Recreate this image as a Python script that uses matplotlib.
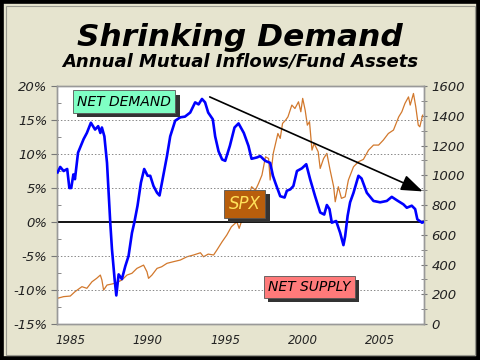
import numpy as np
import matplotlib
matplotlib.use("Agg")
import matplotlib.pyplot as plt
import matplotlib.patheffects as pe
from matplotlib.patches import Rectangle
from matplotlib.ticker import MultipleLocator, FuncFormatter

# ====== DỮ LIỆU ======
# net demand (% tren truc trai)
demand_years = [1984.18, 1984.35, 1984.57, 1984.8, 1984.94, 1985.06, 1985.2, 1985.3, 1985.5, 1985.86,
                1986.07, 1986.33, 1986.6, 1986.8, 1986.94, 1987.04, 1987.2, 1987.37, 1987.58, 1987.69,
                1987.86, 1987.97, 1988.12, 1988.33, 1988.55, 1988.76, 1988.98, 1989.13, 1989.34, 1989.56,
                1989.77, 1989.99, 1990.16, 1990.37, 1990.6, 1990.76, 1991.0, 1991.24, 1991.45, 1991.77,
                1992.1, 1992.4, 1992.74, 1993.06, 1993.28, 1993.5, 1993.7, 1993.9, 1994.2, 1994.35,
                1994.57, 1994.8, 1995.0, 1995.3, 1995.6, 1995.86, 1996.2, 1996.5, 1996.7, 1997.05,
                1997.26, 1997.58, 1997.9, 1998.08, 1998.23, 1998.55, 1998.83, 1998.98, 1999.2, 1999.4,
                1999.63, 1999.95, 2000.23, 2000.48, 2000.8, 2001.13, 2001.39, 2001.56, 2001.73, 2001.88,
                2002.16, 2002.42, 2002.63, 2002.74, 2002.9, 2003.06, 2003.28, 2003.6, 2003.8, 2004.14,
                2004.57, 2005.0, 2005.43, 2005.75, 2006.08, 2006.5, 2006.72, 2007.04, 2007.26, 2007.4,
                2007.7, 2007.8]
demand_pct = [7.3, 8.1, 7.5, 7.8, 5.0, 5.0, 7.0, 6.3, 10.2, 12.2,
              13.1, 14.6, 13.6, 14.1, 13.1, 13.9, 12.6, 8.7, -0.1, -4.0,
              -8.4, -10.8, -7.7, -8.4, -6.5, -5.0, -1.6, -0.1, 2.4, 5.8,
              7.8, 6.8, 6.8, 5.3, 4.3, 3.9, 6.8, 9.7, 12.6, 14.9,
              15.4, 15.5, 16.1, 17.6, 17.3, 18.1, 17.6, 16.1, 15.1, 12.6,
              10.4, 9.2, 9.0, 11.2, 13.9, 14.5, 13.1, 11.2, 9.3, 9.5,
              9.7, 9.0, 8.7, 6.8, 5.8, 3.8, 3.6, 4.6, 4.8, 5.3,
              7.5, 7.9, 8.5, 6.3, 3.8, 1.4, 1.1, 2.5, 1.9, -0.1,
              0.15, -1.6, -3.4, -2.1, 0.9, 2.9, 4.3, 6.8, 6.4, 4.3,
              3.1, 2.9, 3.1, 3.7, 3.2, 2.6, 2.1, 2.4, 1.9, 0.4,
              -0.1, 0.0]

# SPX (truc phai)
spx_years = [1984.18, 1984.57, 1985.0, 1985.3, 1985.75, 1986.07, 1986.4, 1986.7, 1986.94, 1987.04,
             1987.15, 1987.37, 1987.69, 1988.0, 1988.33, 1988.66, 1988.98, 1989.3, 1989.73, 1989.95,
             1990.05, 1990.27, 1990.6, 1990.9, 1991.24, 1991.66, 1992.1, 1992.53, 1992.96, 1993.4,
             1993.6, 1993.9, 1994.25, 1994.46, 1994.8, 1995.1, 1995.4, 1995.75, 1995.9, 1996.08,
             1996.4, 1996.7, 1996.95, 1997.15, 1997.37, 1997.6, 1997.8, 1997.9, 1998.1, 1998.4,
             1998.55, 1998.7, 1998.9, 1999.05, 1999.3, 1999.5, 1999.73, 1999.88, 2000.0, 2000.16,
             2000.3, 2000.44, 2000.6, 2000.74, 2001.0, 2001.13, 2001.35, 2001.56, 2001.77, 2002.0,
             2002.1, 2002.3, 2002.5, 2002.74, 2002.95, 2003.28, 2003.6, 2003.92, 2004.25, 2004.57,
             2004.9, 2005.2, 2005.53, 2005.86, 2006.2, 2006.4, 2006.6, 2006.83, 2006.94, 2007.15,
             2007.3, 2007.46, 2007.56, 2007.74]
spx_vals = [173, 184, 188, 217, 251, 240, 284, 307, 329, 296,
            228, 262, 269, 278, 296, 329, 341, 374, 396, 351,
            307, 329, 374, 385, 408, 419, 430, 452, 464, 479,
            452, 470, 464, 497, 553, 598, 654, 687, 643, 699,
            811, 923, 900, 945, 1001, 1124, 1113, 968, 1147, 1281,
            1248, 1349, 1371, 1393, 1472, 1449, 1494, 1427, 1517, 1438,
            1337, 1360, 1169, 1214, 1158, 1046, 1113, 1147, 1035, 923,
            822, 923, 845, 855, 968, 1057, 1091, 1107, 1169, 1203,
            1203, 1236, 1281, 1304, 1393, 1427, 1483, 1527, 1472, 1550,
            1460, 1337, 1326, 1404]

x_ticks = [1985, 1990, 1995, 2000, 2005]
x_labels = ["1985", "1990", "1995", "2000", "2005"]

# mui ten xu huong (tu dinh 1994 xuong cuoi 2007)
trend_start = (1994.0, 18.4)
trend_end = (2007.75, 4.5)

BG = "#E6E4CF"

# ====== VE ======
fig = plt.figure(figsize=(4.8, 3.6), dpi=100, facecolor=BG)
ax = fig.add_axes([0.119, 0.1, 0.764, 0.661])

ax.set_xlim(1984.15, 2007.82)
ax.set_ylim(-15, 20)
ax.yaxis.set_major_locator(MultipleLocator(5))
ax.yaxis.set_minor_locator(MultipleLocator(2.5))
ax.yaxis.set_major_formatter(FuncFormatter(lambda v, p: f"{v:.0f}%"))
for y in [-10, -5, 5, 10, 15]:
    ax.axhline(y, color="#888888", lw=0.7, ls=(0, (1.5, 2)), zorder=1)
ax.axhline(0, color="black", lw=1.3, zorder=2)

ax.set_xticks(x_ticks)
ax.set_xticklabels(x_labels)
ax.tick_params(axis="x", length=0, pad=7, labelsize=8.5, labelcolor="#222222")
ax.tick_params(axis="y", which="major", direction="out", length=4, pad=3,
               labelsize=9.5, labelcolor="#222222", color="#777777")
ax.tick_params(axis="y", which="minor", direction="in", length=3, color="#777777")
for tl in ax.get_xticklabels() + ax.get_yticklabels():
    tl.set_fontstyle("italic")

ax2 = ax.twinx()
ax2.set_ylim(0, 1600)
ax2.yaxis.set_major_locator(MultipleLocator(200))
ax2.yaxis.set_minor_locator(MultipleLocator(100))
ax2.tick_params(axis="y", which="both", direction="inout", length=5, pad=3,
                labelsize=9.5, labelcolor="#222222", color="#777777")
for tl in ax2.get_yticklabels():
    tl.set_fontstyle("italic")

ax2.plot(spx_years, spx_vals, color="#D2782C", lw=0.9, zorder=3)
ax.set_zorder(ax2.get_zorder() + 1)
ax.patch.set_visible(False)
ax2.patch.set_visible(True)
ax2.patch.set_facecolor("white")
ax.plot(demand_years, demand_pct, color="#0000FF", lw=1.9, zorder=4)

ax.annotate("", xy=trend_end, xytext=trend_start,
            arrowprops=dict(arrowstyle="-|>,head_length=0.6,head_width=0.22",
                            color="black", lw=1.2, mutation_scale=22,
                            shrinkA=0, shrinkB=0), zorder=5)

for a in (ax, ax2):
    for s in a.spines.values():
        s.set_color("#999999")
        s.set_linewidth(1.0)


def label_box(x, y, txt, fc, tc, size):
    t = ax.text(x, y, txt, transform=ax.transAxes, ha="center", va="center", fontsize=size,
                style="italic", color=tc, zorder=7,
                bbox=dict(boxstyle="square,pad=0.3", fc=fc, ec="#555555", lw=0.6))
    t.get_bbox_patch().set_path_effects([
        pe.SimplePatchShadow(offset=(3, -3), shadow_rgbFace="#333333", alpha=1.0),
        pe.Normal()])


label_box(0.183, 0.935, "NET DEMAND", "#7FFFC4", "black", 10)
label_box(0.511, 0.506, "SPX", "#B85E0C", "#FFE25A", 12)
label_box(0.688, 0.155, "NET SUPPLY", "#FF7A7A", "black", 10)

fig.text(0.5, 0.895, "Shrinking Demand", ha="center", va="center",
         fontsize=22.5, fontweight="bold", style="italic", color="black")
fig.text(0.5, 0.83, "Annual Mutual Inflows/Fund Assets", ha="center", va="center",
         fontsize=13, fontweight="bold", style="italic", color="black")

fig.patches.append(Rectangle((0, 0), 1, 1, transform=fig.transFigure, fill=False,
                             ec="black", lw=5.5, zorder=10))
fig.patches.append(Rectangle((5.5 / 480, 5.5 / 360), 1 - 11 / 480, 1 - 11 / 360,
                             transform=fig.transFigure, fill=False,
                             ec="#9A9A90", lw=0.8, zorder=10))

fig.savefig("out.png", dpi=100, facecolor=BG)
